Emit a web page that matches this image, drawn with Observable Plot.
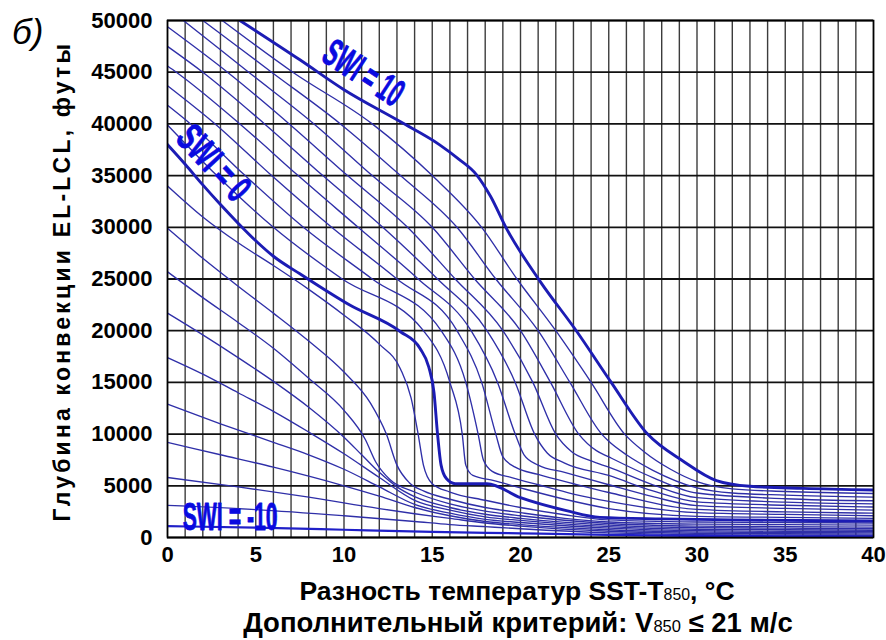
<!DOCTYPE html>
<html><head><meta charset="utf-8">
<script src="https://cdn.jsdelivr.net/npm/d3@7"></script>
<script src="https://cdn.jsdelivr.net/npm/@observablehq/plot@0.6"></script>
<style>
body{margin:0;background:#fff;}
#wrap{position:relative;width:886px;height:640px;overflow:hidden;font-family:"Liberation Sans",Arial,sans-serif;}
.t{position:absolute;font-weight:bold;color:#000;white-space:nowrap;line-height:1;}
.sub{font-size:0.6em;font-weight:normal;}
</style></head><body><div id="wrap"></div>
<script>
// ---- data ----
const xTicks = [0, 5, 10, 15, 20, 25, 30, 35, 40];
const yTicks = [0, 5000, 10000, 15000, 20000, 25000, 30000, 35000, 40000, 45000, 50000];
const xGrid = [0,1,2,3,4,5,6,7,8,9,10,11,12,13,14,15,16,17,18,19,20,21,22,23,24,25,26,27,28,29,30,31,32,33,34,35,36,37,38,39,40];

const swi10 = [[4.1,50000],[7.5,46200],[10,43300],[13.2,40200],[15.4,38000],[16.5,36600],[17.5,35100],[18.3,33000],[19.2,29900],[21.1,24800],[23.2,19900],[25.1,15100],[27.2,10000],[29.2,7400],[31.1,5500],[33,4950],[36,4750],[40,4600]];
const swi9 = [[3.1,50000],[7.1,45000],[11.6,40000],[15.0,35000],[17.8,30000],[19.8,25000],[22.0,20000],[24.0,15000],[25.9,10000],[27,8300],[28.5,6600],[30,5400],[32,4700],[35,4450],[40,4250]];
const swi8 = [[2.0,50000],[5.9,45000],[9.8,40000],[13.2,35000],[16.4,30000],[18.6,25000],[21.0,20000],[22.8,15000],[24.6,10000],[25,9300],[26,8000],[27.5,6500],[30,4800],[32,4300],[35,4100],[40,3900]];
const swi7 = [[0.9,50000],[4.6,45000],[8.3,40000],[11.6,35000],[15.0,30000],[17.4,25000],[20.0,20000],[21.7,15000],[23.3,10000],[24.3,8400],[25,7800],[27.5,5800],[30,4300],[35,3750],[40,3550]];
const swi6 = [[0,49400],[3.4,45000],[6.9,40000],[10.2,35000],[13.6,30000],[16.3,25000],[19.0,20000],[20.7,15000],[22.0,10000],[22.9,8300],[24,7400],[25,6800],[27.5,5100],[30,3850],[35,3420],[40,3250]];
const swi5 = [[0,47500],[2.0,45000],[5.5,40000],[8.8,35000],[12.2,30000],[15.3,25000],[18.1,20000],[19.7,15000],[20.8,10000],[21.5,8200],[22.5,7200],[25,6000],[27.5,4500],[30,3450],[35,3120],[40,2950]];
const swi4 = [[0,45600],[0.5,45000],[4.1,40000],[7.4,35000],[10.8,30000],[14.2,25000],[17.2,20000],[18.7,15000],[19.7,10000],[20.2,8000],[21.0,7000],[22.5,6300],[25,5100],[27.5,3950],[30,3080],[35,2820],[40,2650]];
const swi3 = [[0,43700],[2.7,40000],[5.9,35000],[9.3,30000],[13.0,25000],[16.4,20000],[17.8,15000],[18.6,10000],[19.0,7800],[19.7,6800],[21,6100],[23,5200],[25,4350],[30,2720],[35,2480],[40,2350]];
const swi2 = [[0,41800],[1.3,40000],[4.4,35000],[7.7,30000],[11.6,25000],[15.5,20000],[16.9,15000],[17.6,10000],[17.9,7500],[18.4,6400],[19.5,5800],[21,5100],[23,4200],[25,3500],[30,2400],[35,2230],[40,2100]];
const swi1 = [[0,39900],[2.8,35000],[6.0,30000],[9.9,25000],[14.5,20000],[16.0,15000],[16.7,10000],[16.9,7000],[17.3,6000],[18.5,5500],[20,4800],[22.5,3700],[25,2800],[30,2050],[35,1950],[40,1850]];
const swi0 = [[0,38000],[1,36100],[2,34100],[3,32200],[4,30400],[5,28700],[6,27200],[7.5,25500],[10.3,22500],[13.2,19900],[14.3,18300],[14.8,16500],[15.1,14000],[15.3,10000],[15.5,7000],[15.8,5700],[16.3,5200],[18.1,5200],[20,3850],[22.6,2600],[24.5,1950],[28,1800],[32,1700],[40,1600]];
const swiN1 = [[0,34000],[2,31000],[4,28500],[6,26300],[8,24000],[10,21500],[12,18700],[13.2,16300],[13.8,13500],[14.2,10000],[14.5,7000],[15,5200],[16,4400],[18,3600],[20,2900],[22.5,2200],[25,1700],[30,1500],[35,1450],[40,1400]];
const swiN2 = [[0,29900],[2,27000],[4,24300],[6,21700],[8,19000],[10,16000],[11.5,13000],[12.4,10000],[13.0,7000],[13.7,5300],[14.5,4500],[16,3700],[18,2900],[20,2400],[22.5,1850],[25,1500],[30,1300],[35,1250],[40,1200]];
const swiN3 = [[0,25700],[2,23200],[4,20800],[6,18300],[8,15400],[10,12300],[11.2,9500],[11.8,7300],[12.6,5600],[14,4400],[16,3250],[18,2550],[20,2100],[25,1350],[30,1100],[35,1050],[40,1000]];
const swiN4 = [[0,21700],[2,19600],[4,17400],[6,15100],[8,12600],[10,9700],[11,8000],[12,6300],[13,4900],[14,3950],[16,2900],[18,2250],[20,1850],[25,1200],[30,950],[35,900],[40,850]];
const swiN5 = [[0,17400],[2,15800],[4,14000],[6,12200],[8,10200],[10,8100],[12,5800],[14,3600],[16,2650],[18,2000],[20,1650],[25,1050],[30,800],[35,750],[40,700]];
const swiN6 = [[0,12900],[3,11000],[6,9200],[8,8000],[10,6600],[12,4900],[14,3200],[16,2350],[18,1750],[20,1450],[25,900],[30,650],[35,600],[40,560]];
const swiN7 = [[0,9200],[3,8000],[6,6800],[10,5000],[12,4000],[14,2900],[16,2100],[18,1550],[20,1250],[25,750],[30,520],[35,480],[40,440]];
const swiN8 = [[0,5800],[4,4900],[8,3900],[12,2800],[14,2300],[16,1850],[18,1400],[20,1100],[25,600],[30,400],[35,360],[40,320]];
const swiN9 = [[0,3100],[5,2700],[10,2100],[14,1550],[16,1250],[18,1050],[20,850],[25,450],[30,280],[35,240],[40,200]];
const swiN10 = [[0,1100],[5,950],[10,750],[15,550],[20,400],[25,250],[30,150],[35,120],[40,90]];

const swiValues = [-10,-9,-8,-7,-6,-5,-4,-3,-2,-1,0,1,2,3,4,5,6,7,8,9,10];
const swiCurves = [swiN10,swiN9,swiN8,swiN7,swiN6,swiN5,swiN4,swiN3,swiN2,swiN1,swi0,swi1,swi2,swi3,swi4,swi5,swi6,swi7,swi8,swi9,swi10];
const boldSwi = [10, 0];

const labelText = ["SWI = 10", "SWI = 0", "SWI = -10"];
const labelX = [11.1, 2.6, 3.55];
const labelY = [44900, 36200, 1930];
const labelAngle = [33, 47, 0];
const labelLen = [88, 88, 95];

// ---- build ----
const rows = swiCurves.flatMap((pts, i) => pts.map(([x, y]) => ({swi: swiValues[i], x, y})));
const thin = rows.filter(d => !boldSwi.includes(d.swi) && d.swi !== -10);
const mid = rows.filter(d => d.swi === -10);
const bold = rows.filter(d => boldSwi.includes(d.swi));
const labels = labelText.map((t, i) => ({t, x: labelX[i], y: labelY[i], r: labelAngle[i]}));

const chart = Plot.plot({
  width: 886, height: 640,
  marginLeft: 167, marginRight: 13, marginTop: 20, marginBottom: 103,
  style: {fontFamily: "'Liberation Sans', Arial, sans-serif", fontSize: "22px", fontWeight: "bold", background: "transparent", color: "#000"},
  x: {domain: [0, 40], ticks: xTicks, tickSize: 0, tickPadding: 9, label: null},
  y: {domain: [0, 50000], ticks: yTicks, tickSize: 0, tickPadding: 15, label: null, tickFormat: "d"},
  marks: [
    Plot.ruleX(xGrid, {stroke: "#1a1a1a", strokeWidth: 1.4, strokeOpacity: 0.85}),
    Plot.ruleY(yTicks, {stroke: "#111", strokeWidth: 1.8}),
    Plot.line(thin, {x: "x", y: "y", z: "swi", curve: "monotone-x", stroke: "#2f2fa8", strokeWidth: 1.35, clip: true}),
    Plot.line(mid, {x: "x", y: "y", z: "swi", curve: "monotone-x", stroke: "#2020c8", strokeWidth: 2.2, clip: true}),
    Plot.line(bold, {x: "x", y: "y", z: "swi", curve: "monotone-x", stroke: "#1c1cb4", strokeWidth: 2.9, clip: true}),
    Plot.frame({stroke: "#000", strokeWidth: 1.6}),
    Plot.text(labels, {x: "x", y: "y", text: "t", rotate: "r", fontSize: 39, fontWeight: "bold",
      fontFamily: "'Liberation Sans Narrow', 'Liberation Sans', Arial, sans-serif", fill: "#0a0ae0",
      stroke: "#0a0ae0", strokeWidth: 0.8, textAnchor: "middle", lineAnchor: "middle"})
  ]
});
const wrap = document.getElementById("wrap");
wrap.appendChild(chart);
d3.select(chart).selectAll('g[aria-label="text"] text').each(function(d, i) {
  this.setAttribute("textLength", labelLen[i]);
  this.setAttribute("lengthAdjust", "spacingAndGlyphs");
});

function addText(html, css) {
  const el = document.createElement("div");
  el.className = "t";
  el.innerHTML = html;
  Object.assign(el.style, css);
  wrap.appendChild(el);
}
addText("б)", {left: "12px", top: "14px", fontSize: "35px", fontStyle: "italic", fontWeight: "normal"});
addText("Глубина конвекции EL-LCL, футы", {left: "62px", top: "281px", fontSize: "23px", letterSpacing: "3.2px", transform: "translate(-50%,-50%) rotate(-90deg)"});
addText('Разность температур SST-T<span class="sub">850</span>, °C', {left: "517px", top: "591px", fontSize: "26.5px", transform: "translate(-50%,-50%)"});
addText('Дополнительный критерий: V<span class="sub">850</span> ≤ 21 м/с', {left: "518px", top: "623px", fontSize: "27.5px", transform: "translate(-50%,-50%)"});
</script>
</body></html>
